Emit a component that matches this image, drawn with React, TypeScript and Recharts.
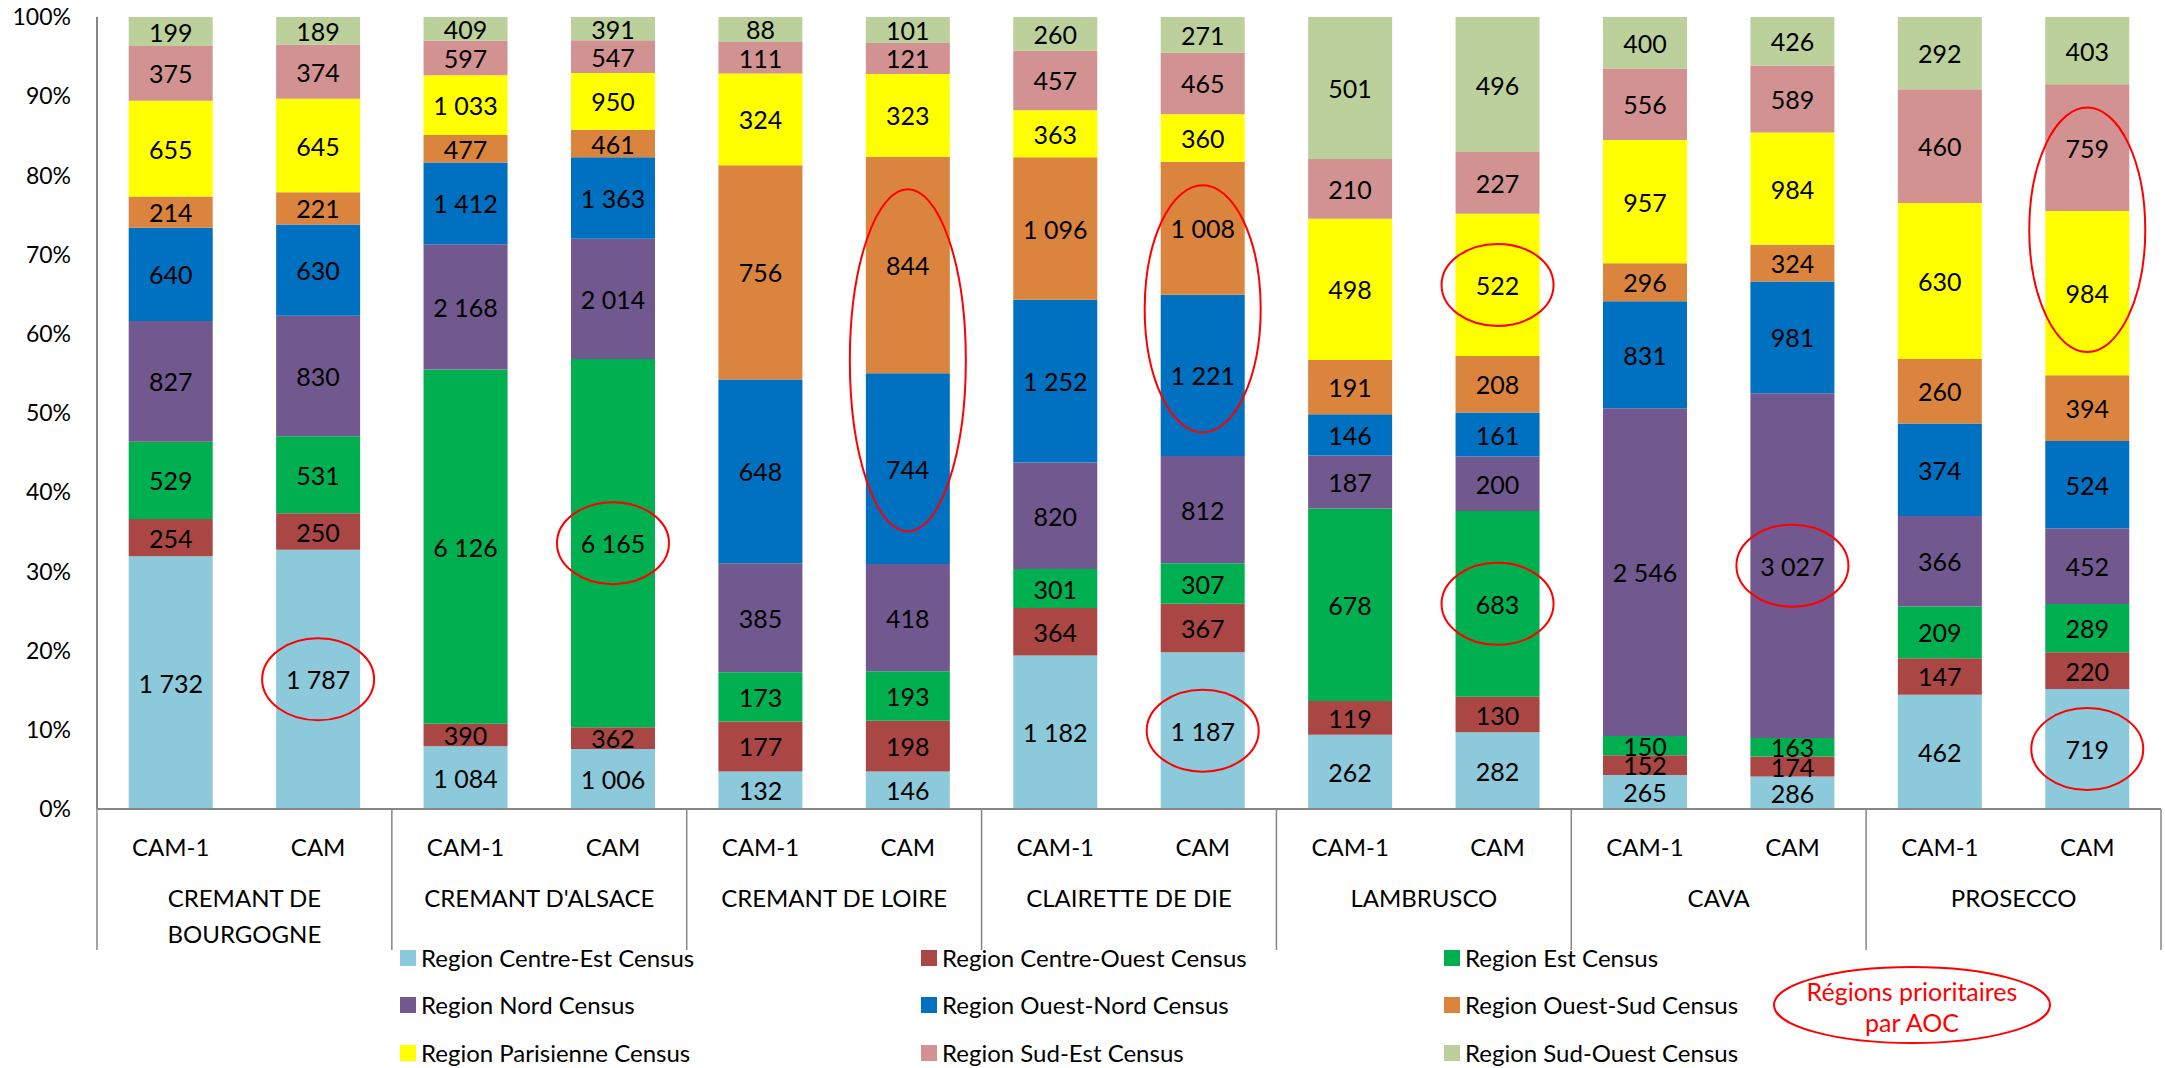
import React from "react";
import { BarChart, Bar, XAxis, YAxis, Legend, LabelList } from "recharts";

if (typeof document !== "undefined") document.body.style.margin = "0";

const FONT = "Lato, 'Open Sans', sans-serif";
const W = 2165;
const H = 1068;
const AXIS_GREY = "#868686";
const RED = "#FF0000";

// categories
const GROUPS = [
  ["CREMANT DE", "BOURGOGNE"],
  ["CREMANT D'ALSACE"],
  ["CREMANT DE LOIRE"],
  ["CLAIRETTE DE DIE"],
  ["LAMBRUSCO"],
  ["CAVA"],
  ["PROSECCO"],
];
const PERIODS = ["CAM-1", "CAM"];

// series values, one per bar (group x period), bottom of stack first
const CENTRE_EST = [1732, 1787, 1084, 1006, 132, 146, 1182, 1187, 262, 282, 265, 286, 462, 719];
const CENTRE_OUEST = [254, 250, 390, 362, 177, 198, 364, 367, 119, 130, 152, 174, 147, 220];
const EST = [529, 531, 6126, 6165, 173, 193, 301, 307, 678, 683, 150, 163, 209, 289];
const NORD = [827, 830, 2168, 2014, 385, 418, 820, 812, 187, 200, 2546, 3027, 366, 452];
const OUEST_NORD = [640, 630, 1412, 1363, 648, 744, 1252, 1221, 146, 161, 831, 981, 374, 524];
const OUEST_SUD = [214, 221, 477, 461, 756, 844, 1096, 1008, 191, 208, 296, 324, 260, 394];
const PARISIENNE = [655, 645, 1033, 950, 324, 323, 363, 360, 498, 522, 957, 984, 630, 984];
const SUD_EST = [375, 374, 597, 547, 111, 121, 457, 465, 210, 227, 556, 589, 460, 759];
const SUD_OUEST = [199, 189, 409, 391, 88, 101, 260, 271, 501, 496, 400, 426, 292, 403];

const SERIES = [
  { key: "ce", name: "Region Centre-Est Census", color: "#8CC9DA", values: CENTRE_EST },
  { key: "co", name: "Region Centre-Ouest Census", color: "#AA4643", values: CENTRE_OUEST },
  { key: "est", name: "Region Est Census", color: "#00B050", values: EST },
  { key: "nord", name: "Region Nord Census", color: "#71588F", values: NORD },
  { key: "on", name: "Region Ouest-Nord Census", color: "#0070C0", values: OUEST_NORD },
  { key: "os", name: "Region Ouest-Sud Census", color: "#DB843D", values: OUEST_SUD },
  { key: "par", name: "Region Parisienne Census", color: "#FFFF00", values: PARISIENNE },
  { key: "se", name: "Region Sud-Est Census", color: "#D39292", values: SUD_EST },
  { key: "so", name: "Region Sud-Ouest Census", color: "#BBD09A", values: SUD_OUEST },
];

// red circles: single segments, and pairs (lower + upper) circled together
const CIRCLED = [
  { bar: 1, key: "ce" },
  { bar: 3, key: "est" },
  { bar: 7, key: "ce" },
  { bar: 9, key: "par" },
  { bar: 9, key: "est" },
  { bar: 11, key: "nord" },
  { bar: 13, key: "ce" },
];
const CIRCLED_PAIRS = [
  { bar: 5, lower: "on", upper: "os" },
  { bar: 7, lower: "on", upper: "os" },
  { bar: 13, lower: "par", upper: "se" },
];

const DATA = GROUPS.flatMap((g, gi) =>
  PERIODS.map((p, pi) => {
    const i = gi * PERIODS.length + pi;
    const row: Record<string, any> = { id: `${gi}-${pi}`, group: g, period: p, first: pi === 0 };
    SERIES.forEach((s) => (row[s.key] = s.values[i]));
    return row;
  })
);

const MARGIN = { top: 17, right: 4, left: 0, bottom: 119 };
const Y_WIDTH = 97;
const HALF_BAND = (W - Y_WIDTH - MARGIN.right) / DATA.length / 2;

const fmt = (v: number) => String(v).replace(/\B(?=(\d{3})+(?!\d))/g, " ");

function rectOf(props: any) {
  const vb = props.viewBox && props.viewBox.width != null ? props.viewBox : props;
  const x = Number(vb.x), y = Number(vb.y), w = Number(vb.width), h = Number(vb.height);
  return { x: w < 0 ? x + w : x, y: h < 0 ? y + h : y, w: Math.abs(w), h: Math.abs(h) };
}

const makeLabel = (key: string) => (props: any) => {
  const { value, index } = props;
  const r = rectOf(props);
  const cx = r.x + r.w / 2;
  const cy = r.y + r.h / 2;
  const single = CIRCLED.some((c) => c.bar === index && c.key === key);
  const pair = CIRCLED_PAIRS.find((c) => c.bar === index && c.upper === key);
  let pairEllipse = null;
  if (pair && DATA[index]) {
    const lowerH = (r.h * DATA[index][pair.lower]) / DATA[index][key];
    const total = r.h + lowerH;
    pairEllipse = (
      <ellipse cx={cx} cy={r.y + total / 2} rx={58} ry={(total / 2) * 0.84} fill="none" stroke={RED} strokeWidth={2} />
    );
  }
  return (
    <g>
      <text x={cx} y={cy} textAnchor="middle" dominantBaseline="central" fontFamily={FONT} fontSize={25} fill="#000">
        {fmt(Number(value))}
      </text>
      {single && <ellipse cx={cx} cy={cy} rx={56} ry={41} fill="none" stroke={RED} strokeWidth={2} />}
      {pairEllipse}
    </g>
  );
};

function CategoryTick(props: any) {
  const { x, y, payload } = props;
  const i = payload?.index ?? props.index ?? 0;
  const half = payload?.offset ? payload.offset : HALF_BAND;
  const row = DATA[i];
  if (!row) return null;
  return (
    <g fontFamily={FONT} fontSize={24} fill="#000">
      <text x={x} y={y + 37} textAnchor="middle" dominantBaseline="central">
        {row.period}
      </text>
      {row.first && (
        <>
          <line x1={x - half} x2={x - half} y1={y} y2={y + 141} stroke={AXIS_GREY} strokeWidth={1.5} />
          {row.group.map((line: string, li: number) => (
            <text key={li} x={x + half} y={y + 88 + li * 36} textAnchor="middle" dominantBaseline="central">
              {line}
            </text>
          ))}
        </>
      )}
      {i === DATA.length - 1 && (
        <line x1={x + half} x2={x + half} y1={y} y2={y + 141} stroke={AXIS_GREY} strokeWidth={1.5} />
      )}
    </g>
  );
}

function LegendGrid() {
  return (
    <div style={{ display: "grid", gridTemplateColumns: "521px 523px 420px", fontFamily: FONT }}>
      {SERIES.map((s) => (
        <div key={s.key} style={{ display: "flex", alignItems: "center", height: 47.5 }}>
          <span style={{ width: 16, height: 16, background: s.color, marginRight: 5, display: "inline-block" }} />
          <span style={{ fontSize: 24, color: "#000", lineHeight: 1 }}>{s.name}</span>
        </div>
      ))}
    </div>
  );
}

export default function App() {
  const ticks = [0, 0.1, 0.2, 0.3, 0.4, 0.5, 0.6, 0.7, 0.8, 0.9, 1];
  return (
    <div style={{ position: "relative", width: W, height: H, background: "#fff", fontFamily: FONT }}>
      <BarChart width={W} height={H} data={DATA} stackOffset="expand" margin={MARGIN} barCategoryGap="21.5%">
        <XAxis
          dataKey="id"
          height={140}
          axisLine={{ stroke: AXIS_GREY, strokeWidth: 2 }}
          tickLine={false}
          tickSize={0}
          tickMargin={0}
          interval={0}
          tick={<CategoryTick />}
        />
        <YAxis
          width={Y_WIDTH}
          domain={[0, 1]}
          ticks={ticks}
          tickFormatter={(v: number) => `${Math.round(v * 100)}%`}
          axisLine={{ stroke: AXIS_GREY, strokeWidth: 2 }}
          tickLine={false}
          tickMargin={20}
          tick={{ fontFamily: FONT, fontSize: 23, fill: "#000" }}
        />
        <Legend
          layout="horizontal"
          verticalAlign="middle"
          align="center"
          wrapperStyle={{ top: 934, left: 400, width: 1500 }}
          content={() => <LegendGrid />}
        />
        {SERIES.map((s) => (
          <Bar key={s.key} dataKey={s.key} name={s.name} stackId="a" fill={s.color} isAnimationActive={false}>
            <LabelList dataKey={s.key} content={makeLabel(s.key)} />
          </Bar>
        ))}
      </BarChart>
      <svg width={320} height={100} style={{ position: "absolute", left: 1752, top: 955 }}>
        <ellipse cx={160} cy={50} rx={138} ry={38} fill="#fff" stroke={RED} strokeWidth={2} />
        <text x={160} y={36} textAnchor="middle" dominantBaseline="central" fontFamily={FONT} fontSize={25} fill={RED}>
          Régions prioritaires
        </text>
        <text x={160} y={67} textAnchor="middle" dominantBaseline="central" fontFamily={FONT} fontSize={25} fill={RED}>
          par AOC
        </text>
      </svg>
    </div>
  );
}
